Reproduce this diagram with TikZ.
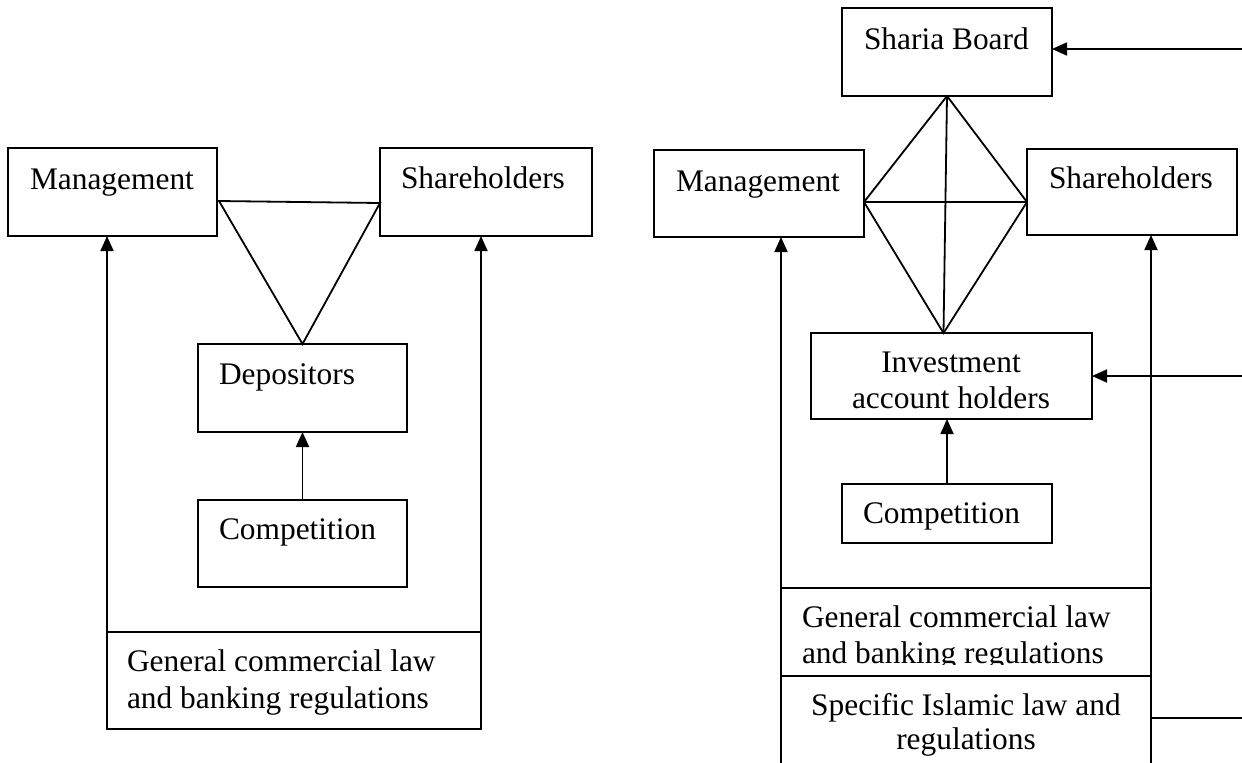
\documentclass[tikz,border=0pt]{standalone}
\usepackage{fontspec}
\setmainfont{Liberation Serif}
\usetikzlibrary{arrows.meta,calc,fit}

\tikzset{
  box/.style={draw=black, line width=0.8pt, inner sep=0pt, outer sep=0pt, rectangle},
  txt/.style={inner sep=0pt, outer sep=0pt, font=\fontsize{15.7pt}{18pt}\selectfont},
  link/.style={draw=black, line width=0.9pt},
  arr/.style={link, -{Triangle[length=7.5pt,width=6.5pt]}}
}

\begin{document}
\begin{tikzpicture}[x=0.5pt, y=-0.5pt]
\useasboundingbox (0,0) rectangle (1242,762);

% ---------- conventional bank ----------
\node[box, fit={(8,148)(217,236)}]   (lmgmt) {};
\node[box, fit={(380,148)(592,236)}] (lsh)   {};
\node[box, fit={(198,344)(407,432)}] (ldep)  {};
\node[box, fit={(198,500)(407,587)}] (lcmp)  {};
\node[box, fit={(107,632)(481,729)}] (lgen)  {};

\node[txt, anchor=base west] (lmgmtT) at (30,189)  {Management};
\node[txt, anchor=base west] (lshT)   at (401,188) {Shareholders};
\node[txt, anchor=base west] (ldepT)  at (219,384) {Depositors};
\node[txt, anchor=base west] (lcmpT)  at (219,539) {Competition};
\node[txt, anchor=base west] (lgenA)  at (127,671) {General commercial law};
\node[txt, anchor=base west] (lgenB)  at (127,708) {and banking regulations};

% triangle of relations
\draw[link, line join=miter] ($(lmgmt.east)+(2,9)$) -- ($(lsh.west)+(0,11)$) -- (ldep.north) -- cycle;

% influences
\draw[arr] (lcmp.north) -- (ldep.south);
\draw[arr] (lgen.north west) -- (lgen.north west |- lmgmt.south);
\draw[arr] (lgen.north east) -- (lgen.north east |- lsh.south);

% ---------- Islamic bank ----------
\node[box, fit={(842,8)(1052,96)}]     (rsha)  {};
\node[box, fit={(654,150)(864,237)}]   (rmgmt) {};
\node[box, fit={(1027,149)(1237,235)}] (rsh)   {};
\node[box, fit={(811,333)(1092,419)}]  (riah)  {};
\node[box, fit={(842,484)(1052,543)}]  (rcmp)  {};
\node[box, fit={(781,588)(1151,676)}]  (rgen)  {};
\node[box, fit={(781,676)(1151,800)}]  (rspec) {};

\node[txt, anchor=base west] (rshaT)  at (864,49)   {Sharia Board};
\node[txt, anchor=base west] (rmgmtT) at (676,191)  {Management};
\node[txt, anchor=base west] (rshT)   at (1049,188) {Shareholders};
\node[txt, anchor=base]      (riahA)  at (951,372)  {Investment};
\node[txt, anchor=base]      (riahB)  at (951,408)  {account holders};
\node[txt, anchor=base west] (rcmpT)  at (863,523)  {Competition};
\begin{scope}
  \clip (781,590) rectangle (1151,664);
  \node[txt, anchor=base west] (rgenA) at (802,627) {General commercial law};
  \node[txt, anchor=base west] (rgenB) at (802,663) {and banking regulations};
\end{scope}
\node[txt, anchor=base] (rspecA) at (966,715) {Specific Islamic law and};
\node[txt, anchor=base] (rspecB) at (966,749) {regulations};

% diamond of relations
\coordinate (dT) at (rsha.south);
\coordinate (dL) at ($(rmgmt.east)+(0,8.5)$);
\coordinate (dR) at ($(rsh.west)+(0,10)$);
\coordinate (dB) at ($(riah.north)+(-8,0)$);
\draw[link, line join=miter] (dT) -- (dL) -- (dB) -- (dR) -- cycle;
\draw[link] (dT) -- (dB);
\draw[link] (dL) -- (dR);

% influences
\draw[arr] (rcmp.north) -- (rcmp.north |- riah.south);
\draw[arr] (rgen.north west) -- (rgen.north west |- rmgmt.south);
\draw[arr] (rgen.north east) -- (rgen.north east |- rsh.south);

% links from the right margin
\coordinate (eSha)  at (1245,49);
\coordinate (eIah)  at (1245,376);
\coordinate (eSpec) at (1245,718);
\draw[arr] (eSha) -- (rsha.east |- eSha);
\draw[arr] (eIah) -- (riah.east |- eIah);
\draw[link] (rspec.east |- eSpec) -- (eSpec);
\end{tikzpicture}
\end{document}
